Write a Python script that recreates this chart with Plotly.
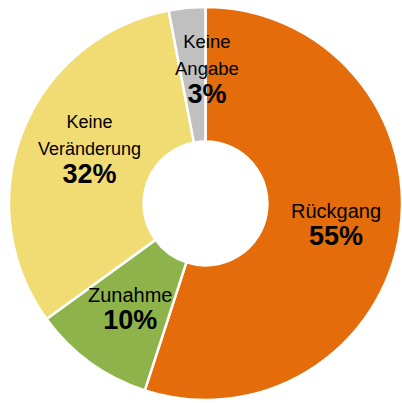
import math
import plotly.graph_objects as go

# Survey answer shares (percent), clockwise from 12 o'clock
categories = ["Rückgang", "Zunahme", "Keine Veränderung", "Keine Angabe"]
values = [55, 10, 32, 3]
label_lines = ["Rückgang", "Zunahme", "Keine<br>Veränderung", "Keine<br>Angabe"]

# styling per slice
colors = ["#E46C0A", "#8EB34B", "#F0DC73", "#C0C0C0"]
name_sizes = [20, 20, 18, 18.5]
label_nudge = [(0, -2), (0, 0), (4, 5), (12, 3)]  # (right, up) in px

W, H = 402, 403
# pie placement in pixels
cx, cy, R = 207.0, 203.5, 198.0
dom_x = [(cx - R) / W, min(1.0, (cx + R) / W)]
dom_y = [1 - (cy + R) / H, 1 - (cy - R) / H]

fig = go.Figure(go.Pie(
    labels=categories,
    values=values,
    sort=False,
    direction="clockwise",
    rotation=0,
    hole=0.315,
    marker=dict(colors=colors, line=dict(color="white", width=2.5)),
    textinfo="none",
    hoverinfo="label+percent",
    showlegend=False,
    domain=dict(x=dom_x, y=dom_y),
))

# data labels at the middle angle of each slice
total = sum(values)
cum = 0.0
annotations = []
label_r = 131.0
for name, v, fs, (nx, ny) in zip(label_lines, values, name_sizes, label_nudge):
    mid = (cum + v / 2) / total * 2 * math.pi
    cum += v
    px = cx + label_r * math.sin(mid)
    py = cy - label_r * math.cos(mid)
    pct = round(v / total * 100)
    annotations.append(dict(
        x=px / W, y=1 - py / H, xref="paper", yref="paper",
        xanchor="center", yanchor="middle", showarrow=False,
        xshift=nx, yshift=ny,
        text=f"<span style='font-size:{fs}px'>{name}</span><br><b><span style='font-size:27px'>{pct}%</span></b>",
        font=dict(family="Liberation Sans, Arial, sans-serif", size=21, color="#000000"),
        align="center",
    ))

fig.update_layout(
    width=W, height=H,
    margin=dict(l=0, r=0, t=0, b=0),
    paper_bgcolor="white",
    plot_bgcolor="white",
    annotations=annotations,
)

fig.write_html("out.html")
